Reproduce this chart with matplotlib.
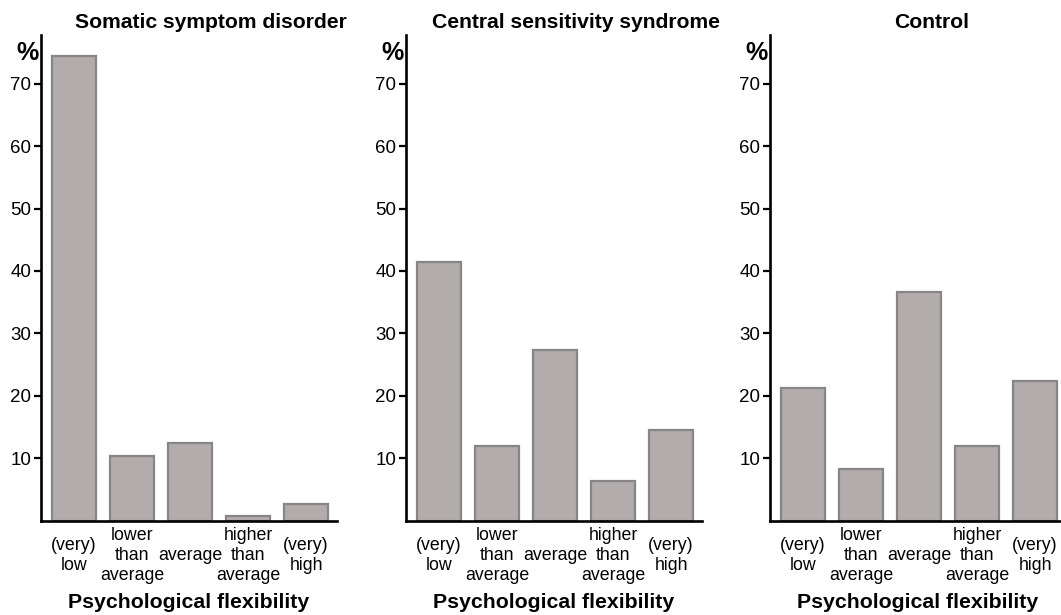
import matplotlib
matplotlib.use("Agg")
import matplotlib.pyplot as plt

plt.rcParams['font.family'] = ['Liberation Sans', 'DejaVu Sans']

categories = ["(very)\nlow", "lower\nthan\naverage", "average", "higher\nthan\naverage", "(very)\nhigh"]
panel_titles = ["Somatic symptom disorder", "Central sensitivity syndrome", "Control"]
ssd_values = [74.5, 10.4, 12.4, 0.7, 2.6]
css_values = [41.5, 11.9, 27.3, 6.4, 14.6]
control_values = [21.3, 8.3, 36.6, 12.0, 22.3]
y_ticks = [10, 20, 30, 40, 50, 60, 70]
x_label = "Psychological flexibility"
y_unit = "%"

series = [ssd_values, css_values, control_values]

fig = plt.figure(figsize=(10.61, 6.15), dpi=100)
lefts = [41 / 1061, 406 / 1061, 770 / 1061]
title_x = [0.574, 0.573, 0.546]
bottom = (615 - 520.7) / 615
height = (520.7 - 35) / 615
width = 296 / 1061

fill = '#b2acac'
edge = '#878585'

for i, (vals, title) in enumerate(zip(series, panel_titles)):
    ax = fig.add_axes([lefts[i], bottom, width, height])
    x = list(range(len(categories)))
    ax.bar(x, vals, width=0.77, color=fill, edgecolor=edge, linewidth=1.6, zorder=2)
    ax.set_xlim(-0.569, 4.534)
    ax.set_ylim(0, 77.8)
    ax.set_yticks(y_ticks)
    ax.set_yticklabels([str(t) for t in y_ticks], fontsize=13.5)
    ax.set_xticks(x)
    ax.set_xticklabels(categories, fontsize=12.8, linespacing=1.2)
    for lab in ax.get_xticklabels():
        lab.set_va('center')
        lab.set_ha('center')
        lab.set_multialignment('center')
    ax.tick_params(axis='x', length=0, pad=25)
    ax.tick_params(axis='y', length=5, width=1.6, pad=2, direction='out', colors='black')
    for s in ['top', 'right']:
        ax.spines[s].set_visible(False)
    for s in ['left', 'bottom']:
        ax.spines[s].set_linewidth(1.9)
        ax.spines[s].set_color('black')
    ax.set_title(title, fontsize=15.2, fontweight='bold', x=title_x[i], pad=5)
    ax.set_xlabel(x_label, fontsize=15.3, fontweight='bold')
    ax.xaxis.set_label_coords(0.5, -0.169)
    ax.xaxis.label.set_va('center')
    ax.text(-0.047, 0.963, y_unit, transform=ax.transAxes, fontsize=18,
            fontweight='bold', ha='center', va='center')

fig.savefig("out.png", dpi=100)
